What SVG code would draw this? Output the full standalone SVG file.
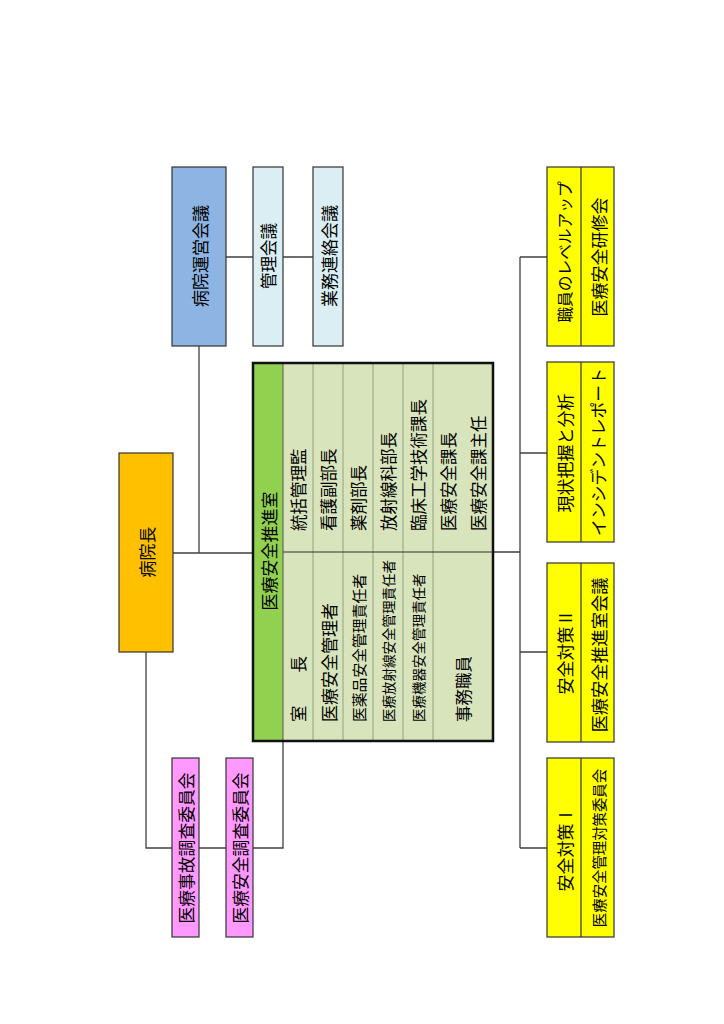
<svg xmlns="http://www.w3.org/2000/svg" width="724" height="1024" viewBox="0 0 724 1024">
<style>
text{font-family:"Noto Sans CJK JP","Noto Sans CJK SC",sans-serif;fill:#000;}
.c{text-anchor:middle;dominant-baseline:central;}
.s{text-anchor:start;dominant-baseline:central;}
.box{stroke:#333;stroke-width:1.2;}
.conn{stroke:#404040;stroke-width:1.3;fill:none;}
.sep{stroke:#8f9a78;stroke-width:0.9;}
</style>
<rect width="724" height="1024" fill="#fff"/>
<g id="connectors">
<path class="conn" d="M199 346V553M173 553H253M226 257H313"/>
<path class="conn" d="M146 652V848H283V741"/>
<path class="conn" d="M493 552H520M520 257V848M520 257H547M520 453H547M520 652H547M520 848H547"/>
</g>
<g id="byoin-unei">
<rect class="box" x="172" y="167" width="54" height="179" fill="#8db4e2"/>
<text class="c" font-size="17" transform="translate(199,256) rotate(-90)">病院運営会議</text>
</g>
<g id="kanri">
<rect class="box" x="253" y="167" width="30" height="179" fill="#daeef3"/>
<text class="c" font-size="16.5" transform="translate(268,256) rotate(-90)">管理会議</text>
</g>
<g id="gyomu">
<rect class="box" x="313" y="167" width="30" height="179" fill="#daeef3"/>
<text class="c" font-size="17" transform="translate(328,256) rotate(-90)">業務連絡会議</text>
</g>
<g id="byoincho">
<rect class="box" x="119" y="453" width="54" height="199" fill="#ffc000"/>
<text class="c" font-size="17" transform="translate(146,552) rotate(-90)">病院長</text>
</g>
<g id="suishinshitsu">
<rect x="253" y="363" width="240" height="378" fill="#d8e4bc"/>
<rect x="253" y="363" width="30" height="378" fill="#92d050"/>
<line class="sep" x1="313" y1="363" x2="313" y2="741"/>
<line class="sep" x1="343" y1="363" x2="343" y2="741"/>
<line class="sep" x1="373" y1="363" x2="373" y2="741"/>
<line class="sep" x1="403" y1="363" x2="403" y2="741"/>
<line class="sep" x1="433" y1="363" x2="433" y2="741"/>
<line x1="283" y1="363" x2="283" y2="741" stroke="#555" stroke-width="1"/>
<line x1="283" y1="552" x2="493" y2="552" stroke="#333" stroke-width="1.2"/>
<rect x="253" y="363" width="240" height="378" fill="none" stroke="#111" stroke-width="2.5"/>
<text class="c" font-size="17" transform="translate(268,551) rotate(-90)">医療安全推進室</text>
<text class="s" font-size="16.5" transform="translate(298,531) rotate(-90)">統括管理監</text>
<text class="s" font-size="16.5" transform="translate(328,531) rotate(-90)">看護副部長</text>
<text class="s" font-size="16.5" transform="translate(358,531) rotate(-90)">薬剤部長</text>
<text class="s" font-size="16.5" transform="translate(388,531) rotate(-90)">放射線科部長</text>
<text class="s" font-size="16.5" transform="translate(418,531) rotate(-90)">臨床工学技術課長</text>
<text class="s" font-size="16.5" transform="translate(448,531) rotate(-90)">医療安全課長</text>
<text class="s" font-size="16.5" transform="translate(478,531) rotate(-90)">医療安全課主任</text>
<text class="s" font-size="16.5" transform="translate(298,722) rotate(-90)">室　　長</text>
<text class="s" font-size="17" transform="translate(328,722) rotate(-90)">医療安全管理者</text>
<text class="s" font-size="14.8" transform="translate(358,722) rotate(-90)">医薬品安全管理責任者</text>
<text class="s" font-size="13.5" transform="translate(388,722) rotate(-90)">医療放射線安全管理責任者</text>
<text class="s" font-size="13.5" transform="translate(418,722) rotate(-90)">医療機器安全管理責任者</text>
<text class="s" font-size="16.5" transform="translate(463,722) rotate(-90)">事務職員</text>
</g>
<g id="jiko-chosa">
<rect class="box" x="172" y="758" width="27" height="179" fill="#ff99ff"/>
<text class="c" font-size="16.8" transform="translate(185.5,848) rotate(-90)">医療事故調査委員会</text>
</g>
<g id="anzen-chosa">
<rect class="box" x="226" y="758" width="27" height="179" fill="#ff99ff"/>
<text class="c" font-size="16.8" transform="translate(239.5,848) rotate(-90)">医療安全調査委員会</text>
</g>
<g id="levelup">
<rect class="box" x="547" y="167" width="67" height="179" fill="#ffff00"/>
<line class="box" x1="581" y1="167" x2="581" y2="346"/>
<text class="c" font-size="15.7" transform="translate(564,252) rotate(-90)">職員のレベルアップ</text>
<text class="c" font-size="17" transform="translate(598,257) rotate(-90)">医療安全研修会</text>
</g>
<g id="genjo">
<rect class="box" x="547" y="362" width="67" height="180" fill="#ffff00"/>
<line class="box" x1="581" y1="362" x2="581" y2="542"/>
<text class="c" font-size="17" transform="translate(564,453) rotate(-90)">現状把握と分析</text>
<text class="c" font-size="16.8" transform="translate(598,452) rotate(-90)">インシデントレポート</text>
</g>
<g id="taisaku2">
<rect class="box" x="547" y="563" width="67" height="179" fill="#ffff00"/>
<line class="box" x1="581" y1="563" x2="581" y2="742"/>
<text class="c" font-size="17" transform="translate(564,652) rotate(-90)">安全対策Ⅱ</text>
<text class="c" font-size="17.2" transform="translate(598,655) rotate(-90)">医療安全推進室会議</text>
</g>
<g id="taisaku1">
<rect class="box" x="547" y="758" width="67" height="179" fill="#ffff00"/>
<line class="box" x1="581" y1="758" x2="581" y2="937"/>
<text class="c" font-size="17" transform="translate(564,849) rotate(-90)">安全対策Ⅰ</text>
<text class="c" font-size="14.4" transform="translate(598,848) rotate(-90)">医療安全管理対策委員会</text>
</g>
</svg>
